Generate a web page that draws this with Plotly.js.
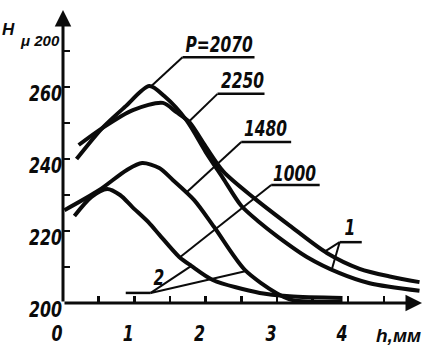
<!DOCTYPE html>
<html>
<head>
<meta charset="utf-8">
<script src="https://cdn.plot.ly/plotly-3.0.1.min.js"></script>
<style>html,body{margin:0;padding:0;background:#fff;}#chart{width:423px;height:345px;}</style>
</head>
<body>
<div id="chart"></div>
<script>
// ---- data (h in mm, H_μ200) ----
const h2070 = [0.19, 0.55, 0.87, 1.21, 1.42, 1.73, 2.0, 2.25, 2.5, 2.75, 3.0, 3.42, 3.88, 4.3, 5.0];
const H2070 = [240.0, 248.6, 254.5, 260.3, 257.5, 250.8, 242.0, 234.5, 227.0, 222.5, 218.6, 212.8, 208.3, 205.5, 203.4];

const h2250 = [0.22, 0.55, 0.98, 1.4, 1.59, 1.77, 2.0, 2.25, 2.69, 3.18, 3.70, 4.16, 4.6, 5.0];
const H2250 = [243.9, 248.6, 253.6, 255.6, 253.0, 250.3, 243.5, 236.5, 229.0, 221.5, 213.9, 209.5, 207.3, 205.8];

const h1480 = [0.02, 0.51, 0.89, 1.11, 1.35, 1.54, 1.84, 2.12, 2.55, 2.99, 3.22, 3.5, 3.92];
const H1480 = [225.8, 231.4, 236.9, 238.9, 237.5, 234.2, 228.6, 221.1, 209.2, 202.8, 200.8, 200.4, 200.3];

const h1000 = [0.16, 0.4, 0.62, 0.8, 0.97, 1.21, 1.35, 1.63, 1.8, 2.1, 2.76, 3.18, 3.92];
const H1000 = [224.2, 229.5, 231.7, 230.0, 226.7, 222.2, 219.0, 212.8, 210.3, 206.4, 202.8, 201.9, 201.4];

const seriesNames = ['P=2070', '2250', '1480', '1000'];
const xTickVals = [0, 0.5, 1, 1.5, 2, 2.5, 3, 3.5, 4, 4.5];
const xTickText = ['0', '', '1', '', '2', '', '3', '', '4', ''];
const yTickVals = [200, 210, 220, 230, 240, 250, 260, 270];
const yTickText = ['200', '', '220', '', '240', '', '260', ''];

// label texts and their leader anchoring (data coords)
const labelTexts = ['P=2070', '2250', '1480', '1000', '2', '1'];
const labelPos = [[2.19, 271.9], [2.52, 261.8], [2.84, 248.6], [3.25, 236.1], [1.34, 207.0], [4.03, 220.9]];
const underlines = [[1.676, 2.686, 268.3], [2.167, 2.826, 258.1], [2.50, 3.20, 244.7], [2.92, 3.60, 232.8], [0.88, 1.23, 202.8], [3.88, 4.19, 216.9]];
const leaders = [
  [1.676, 268.3, 1.24, 260.3],
  [2.167, 258.1, 1.76, 250.3],
  [2.50, 244.7, 1.73, 230.7],
  [2.92, 232.8, 1.64, 212.7],
  [1.23, 202.8, 1.80, 210.3],
  [1.23, 202.8, 2.57, 208.9],
  [3.88, 216.9, 3.67, 214.3],
  [3.88, 216.9, 3.77, 209.3]
];

const ink = '#0b0b0b';
const FONT = 'Liberation Sans Narrow, DejaVu Sans Condensed, Arial Narrow, sans-serif';
const FONT2 = 'Liberation Sans, DejaVu Sans, Arial, sans-serif';

function curve(x, y, name) {
  return {x: x, y: y, name: name, type: 'scatter', mode: 'lines',
    line: {color: ink, width: 4, shape: 'spline', smoothing: 0.8},
    hoverinfo: 'skip', showlegend: false};
}
const traces = [
  curve(h2070, H2070, seriesNames[0]),
  curve(h2250, H2250, seriesNames[1]),
  curve(h1480, H1480, seriesNames[2]),
  curve(h1000, H1000, seriesNames[3])
];

const shapes = [];
underlines.forEach(u => shapes.push({type: 'line', xref: 'x', yref: 'y', x0: u[0], x1: u[1], y0: u[2], y1: u[2], line: {color: ink, width: 2.5}}));
leaders.forEach(l => shapes.push({type: 'line', xref: 'x', yref: 'y', x0: l[0], y0: l[1], x1: l[2], y1: l[3], line: {color: ink, width: 2}}));

const XMAX = 5.035, YMAX = 281.4;
const annotations = [];
labelTexts.forEach((t, i) => annotations.push({
  x: labelPos[i][0], y: labelPos[i][1], xref: 'x', yref: 'y', text: t, showarrow: false,
  xanchor: 'center', yanchor: 'middle',
  font: {family: FONT, size: 22, color: ink, style: 'italic', weight: 'bold'}
}));
// axis arrows
annotations.push({x: XMAX, y: 200, ax: 0, ay: 200, xref: 'x', yref: 'y', axref: 'x', ayref: 'y', text: '', showarrow: true, arrowhead: 2, arrowsize: 1.1, arrowwidth: 3, arrowcolor: ink, standoff: 0, startstandoff: 0});
annotations.push({x: 0, y: YMAX, ax: 0, ay: 200, xref: 'x', yref: 'y', axref: 'x', ayref: 'y', text: '', showarrow: true, arrowhead: 2, arrowsize: 1.1, arrowwidth: 3, arrowcolor: ink, standoff: 0, startstandoff: 0});
// axis titles
annotations.push({x: -0.153, y: 0.935, xref: 'paper', yref: 'paper', text: 'H', showarrow: false, xanchor: 'center', yanchor: 'middle', font: {family: FONT2, size: 17, color: ink, style: 'italic', weight: 'bold'}});
annotations.push({x: -0.125, y: 0.897, xref: 'paper', yref: 'paper', text: 'μ 200', showarrow: false, xanchor: 'left', yanchor: 'middle', font: {family: FONT2, size: 15, color: ink, style: 'italic', weight: 'bold'}});
annotations.push({x: 0.935, y: -0.11, xref: 'paper', yref: 'paper', text: 'h,мм', showarrow: false, xanchor: 'center', yanchor: 'middle', font: {family: FONT2, size: 19, color: ink, style: 'italic', weight: 'bold'}});

const layout = {
  width: 423, height: 345,
  margin: {l: 63, r: 1, t: 10, b: 42, pad: 0},
  paper_bgcolor: '#fff', plot_bgcolor: '#fff',
  showlegend: false,
  xaxis: {range: [0, XMAX], showgrid: false, zeroline: false, showline: false,
    tickmode: 'array', tickvals: xTickVals, ticktext: xTickText,
    ticks: 'inside', ticklen: 7, tickwidth: 2.5, tickcolor: ink,
    ticklabelstandoff: 15, ticklabelshift: -6,
    tickfont: {family: FONT, size: 22, color: ink, style: 'italic', weight: 'bold'}},
  yaxis: {range: [200, YMAX], showgrid: false, zeroline: false, showline: false,
    tickmode: 'array', tickvals: yTickVals, ticktext: yTickText,
    ticks: 'inside', ticklen: 7, tickwidth: 2.5, tickcolor: ink,
    ticklabelstandoff: 0, ticklabelshift: 6,
    tickfont: {family: FONT, size: 22, color: ink, style: 'italic', weight: 'bold'}},
  shapes: shapes,
  annotations: annotations
};

// narrow the drafting-style lettering (condensed glyphs), keeping each label's anchor point
function condense(t, factor, keep) {
  if (!t.textContent || !t.textContent.trim()) return;
  const b0 = t.getBBox();
  const w = t.getComputedTextLength();
  t.setAttribute('textLength', (w * factor).toFixed(2));
  t.setAttribute('lengthAdjust', 'spacingAndGlyphs');
  const b1 = t.getBBox();
  let dx = 0;
  if (keep === 'right') dx = (b0.x + b0.width) - (b1.x + b1.width);
  else dx = (b0.x + b0.width / 2) - (b1.x + b1.width / 2);
  if (Math.abs(dx) > 0.01) {
    const tr = t.getAttribute('transform') || '';
    t.setAttribute('transform', (tr + ' translate(' + dx.toFixed(2) + ',0)').trim());
  }
}

Plotly.newPlot('chart', traces, layout, {staticPlot: true, displayModeBar: false}).then(gd => {
  gd.querySelectorAll('.xtick text').forEach(t => condense(t, 0.8, 'center'));
  gd.querySelectorAll('.ytick text').forEach(t => condense(t, 0.8, 'right'));
  gd.querySelectorAll('.annotation-text').forEach(t => {
    if (labelTexts.indexOf(t.textContent) >= 0) condense(t, 0.78, 'center');
  });
});
</script>
</body>
</html>
